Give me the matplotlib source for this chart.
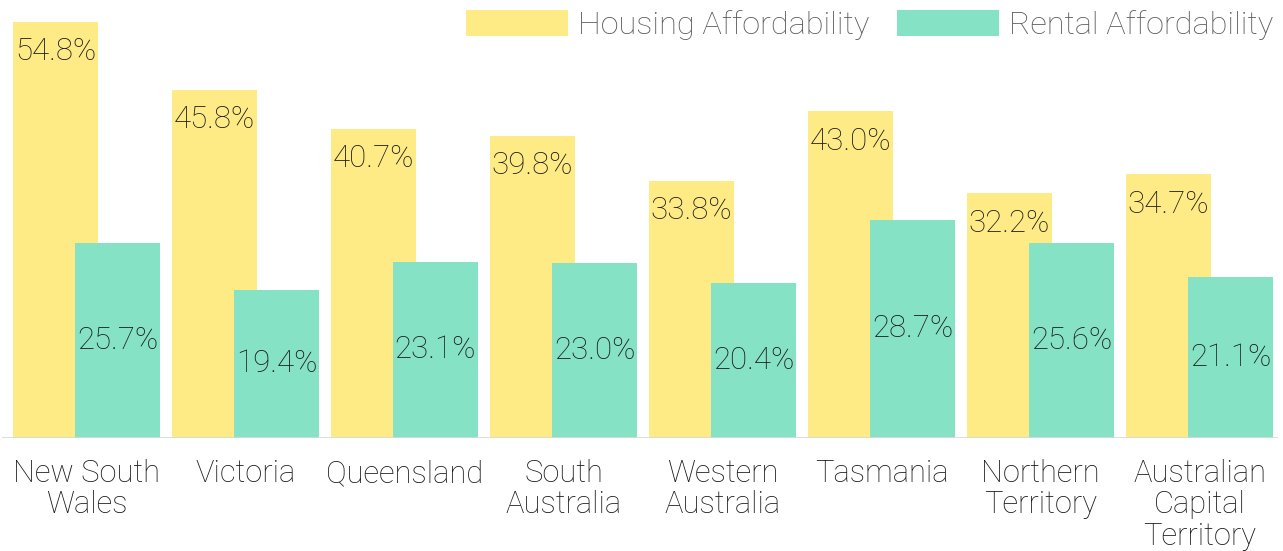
import matplotlib
matplotlib.use("Agg")
import matplotlib.pyplot as plt
import numpy as np

categories = ["New South\nWales", "Victoria", "Queensland", "South\nAustralia",
              "Western\nAustralia", "Tasmania", "Northern\nTerritory",
              "Australian\nCapital\nTerritory"]
housing = [54.8, 45.8, 40.7, 39.8, 33.8, 43.0, 32.2, 34.7]
rental = [25.7, 19.4, 23.1, 23.0, 20.4, 28.7, 25.6, 21.1]
series_names = ["Housing Affordability", "Rental Affordability"]

YELLOW = "#FFEB85"
GREEN = "#86E2C4"
FONT = ["Roboto", "DejaVu Sans"]
plt.rcParams['font.family'] = FONT

W, H = 1283, 551
fig = plt.figure(figsize=(W / 100, H / 100), dpi=100)
base_px = 113.5
ax = fig.add_axes([0, base_px / H, 1, 1 - base_px / H])

px_per_cat = 159.0
c0 = 86.5
ax.set_xlim(-c0 / px_per_cat, (W - c0) / px_per_cat)
ppu = 7.585
ax.set_ylim(0, (H - base_px) / ppu)

x = np.arange(len(categories))
off = 31 / px_per_cat
bw = 85.5 / px_per_cat

ax.bar(x - off, housing, width=bw, color=YELLOW, label=series_names[0], zorder=1)
ax.bar(x + off, rental, width=bw, color=GREEN, label=series_names[1], zorder=2)

fs_num = 22.5
for xi, v in zip(x, housing):
    ax.annotate(f"{v:.1f}%", xy=(xi - off, v), xytext=(0, -21.5), textcoords="offset points",
                ha="center", va="center", fontsize=fs_num, color="#1a1a1a",
                fontweight="light", zorder=5)
for xi, v in zip(x, rental):
    ax.text(xi + off, v / 2, f"{v:.1f}%", ha="center", va="center", fontsize=fs_num,
            color="#1a1a1a", fontweight="light", zorder=5)

ax.axhline(0, xmin=3 / W, xmax=1276 / W, color="#d9d9d9", lw=2, zorder=3)

for s in ax.spines.values():
    s.set_visible(False)
ax.set_yticks([])
ax.set_xticks(x)
ax.set_xticklabels(categories, fontsize=22.2, color="#1a1a1a", linespacing=1.1,
                   fontweight="light")
ax.tick_params(axis="x", length=0, pad=15.5)

fs_leg = 23.4
leg = ax.legend(loc="upper right", bbox_to_anchor=(1273 / W, 1 - 10 / (H - base_px)),
                ncol=2, frameon=False, fontsize=fs_leg,
                handlelength=102 / (fs_leg * 100 / 72), handleheight=28 / (fs_leg * 100 / 72),
                handletextpad=0.3, columnspacing=0.85, borderaxespad=0, borderpad=0)
for t in leg.get_texts():
    t.set_color("#595959")
    t.set_fontweight("light")

fig.savefig("out.png", dpi=100)
